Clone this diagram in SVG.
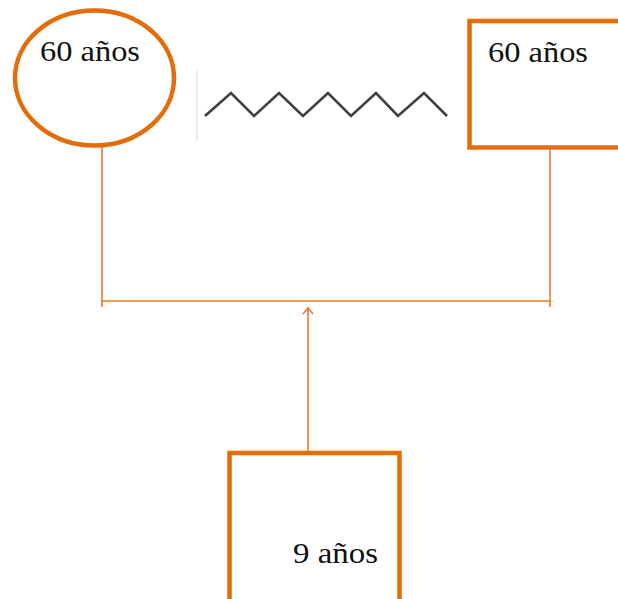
<svg xmlns="http://www.w3.org/2000/svg" width="618" height="599" viewBox="0 0 618 599">
  <style>
    .shape { fill: #ffffff; stroke: #E46C0A; stroke-width: 4.5; }
    .label { font-family: "Liberation Serif", "DejaVu Serif", serif; font-size: 29px; fill: #111111; }
    .link { fill: none; stroke: #EB7A2C; stroke-width: 1.6; }
  </style>
  <defs>
    <!-- open chevron arrowhead, drawn pointing along +x -->
    <marker id="arrow" viewBox="0 0 10 12" refX="9" refY="6" markerWidth="10" markerHeight="12" markerUnits="userSpaceOnUse" orient="auto">
      <path d="M3,1 L9,6 L3,11" fill="none" stroke="#EB7A2C" stroke-width="1.6"/>
    </marker>
  </defs>
  <rect width="618" height="599" fill="#ffffff"/>

  <!-- relationship mark between the two parents -->
  <line x1="197" y1="70" x2="197" y2="141" stroke="#dddddd" stroke-width="1"/>
  <polyline points="205,116 231,93 254,116 279,93 303,116 328,93 351,116 376,93 398,116 424,93 447,116" fill="none" stroke="#404040" stroke-width="2.6" stroke-linejoin="miter"/>

  <!-- connectors -->
  <g id="connectors">
    <polyline class="link" points="102,146 102,301 550,301 550,150"/>
    <line class="link" x1="102" y1="301" x2="102" y2="307"/>
    <line class="link" x1="550" y1="301" x2="550" y2="307"/>
    <line class="link" x1="308" y1="451" x2="308" y2="308" marker-end="url(#arrow)"/>
  </g>

  <g id="mother">
    <ellipse class="shape" cx="94.5" cy="78" rx="79.5" ry="67.5"/>
    <text class="label" x="40" y="61" textLength="100" lengthAdjust="spacingAndGlyphs">60 años</text>
  </g>

  <g id="father">
    <rect class="shape" x="469.5" y="21" width="160" height="126.5"/>
    <text class="label" x="488" y="62" textLength="100" lengthAdjust="spacingAndGlyphs">60 años</text>
  </g>

  <g id="child">
    <rect class="shape" x="229.5" y="453" width="170" height="160"/>
    <text class="label" x="293" y="563" textLength="85" lengthAdjust="spacingAndGlyphs">9 años</text>
  </g>
</svg>
